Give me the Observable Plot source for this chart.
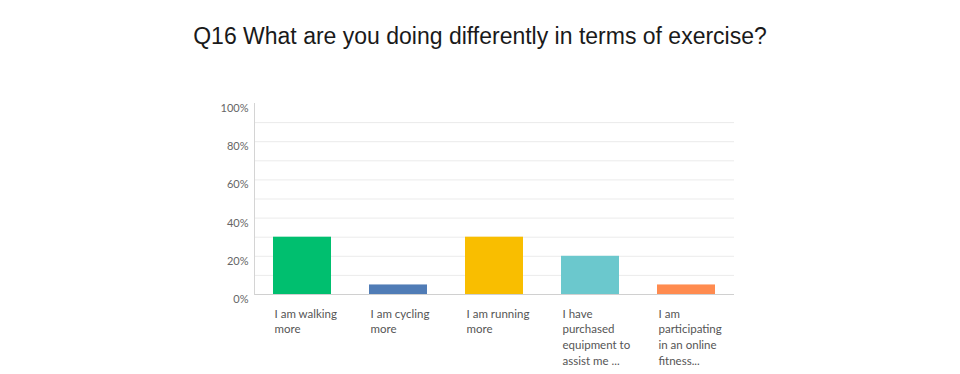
<!DOCTYPE html>
<html>
<head>
<meta charset="utf-8">
<script src="https://cdn.jsdelivr.net/npm/d3@7"></script>
<script src="https://cdn.jsdelivr.net/npm/@observablehq/plot@0.6"></script>
<style>
  html, body { margin: 0; padding: 0; background: #fff; }
  #wrap { width: 960px; height: 374px; position: relative; overflow: hidden; }
  #title { position: absolute; left: 0; top: 21px; width: 960px; text-align: center;
           font-family: "Liberation Sans", Arial, sans-serif; font-size: 23px; color: #1a1a1a; line-height: 30px; }
  #chart { position: absolute; left: 0; top: 70px; }
</style>
</head>
<body>
<div id="wrap">
  <div id="title">Q16 What are you doing differently in terms of exercise?</div>
  <div id="chart"></div>
</div>
<script>
const categories = [
  "I am walking\nmore",
  "I am cycling\nmore",
  "I am running\nmore",
  "I have\npurchased\nequipment to\nassist me ...",
  "I am\nparticipating\nin an online\nfitness..."
];
const values = [30, 5, 30, 20, 5];
const colors = ["#00BF6F", "#507CB6", "#F9BE00", "#6BC8CD", "#FF8B4F"];
const yTicks = [0, 20, 40, 60, 80, 100];
const gridLines = [10, 20, 30, 40, 50, 60, 70, 80, 90];

const data = categories.map((c, i) => ({cat: c, value: values[i], color: colors[i]}));

const chart = Plot.plot({
  width: 960,
  height: 304,
  marginLeft: 254,
  marginRight: 226,
  marginTop: 33,
  marginBottom: 80,
  style: {fontFamily: "Lato, 'Open Sans', sans-serif", fontSize: "11px", background: "transparent"},
  x: {domain: categories, paddingInner: 0.4, paddingOuter: 0.2, align: 0.5},
  y: {domain: [0, 100]},
  marks: [
    Plot.ruleY(gridLines, {stroke: "#ebebeb", strokeWidth: 1}),
    Plot.barY(data, {x: "cat", y: "value", fill: "color"}),
    Plot.ruleY([0], {stroke: "#d0d0d0", strokeWidth: 1}),
    Plot.frame({anchor: "left", stroke: "#d4d4d4"}),
    Plot.axisY({ticks: yTicks, tickSize: 0, tickPadding: 6, dy: 5, tickFormat: d => d + "%", label: null, fill: "#666", fontSize: 11}),
    Plot.axisX({tickSize: 0, tickPadding: 12, textAnchor: "start", dx: -28, label: null, fill: "#555", fontSize: 11.5, lineHeight: 1.37})
  ]
});
document.getElementById("chart").appendChild(chart);
</script>
</body>
</html>
